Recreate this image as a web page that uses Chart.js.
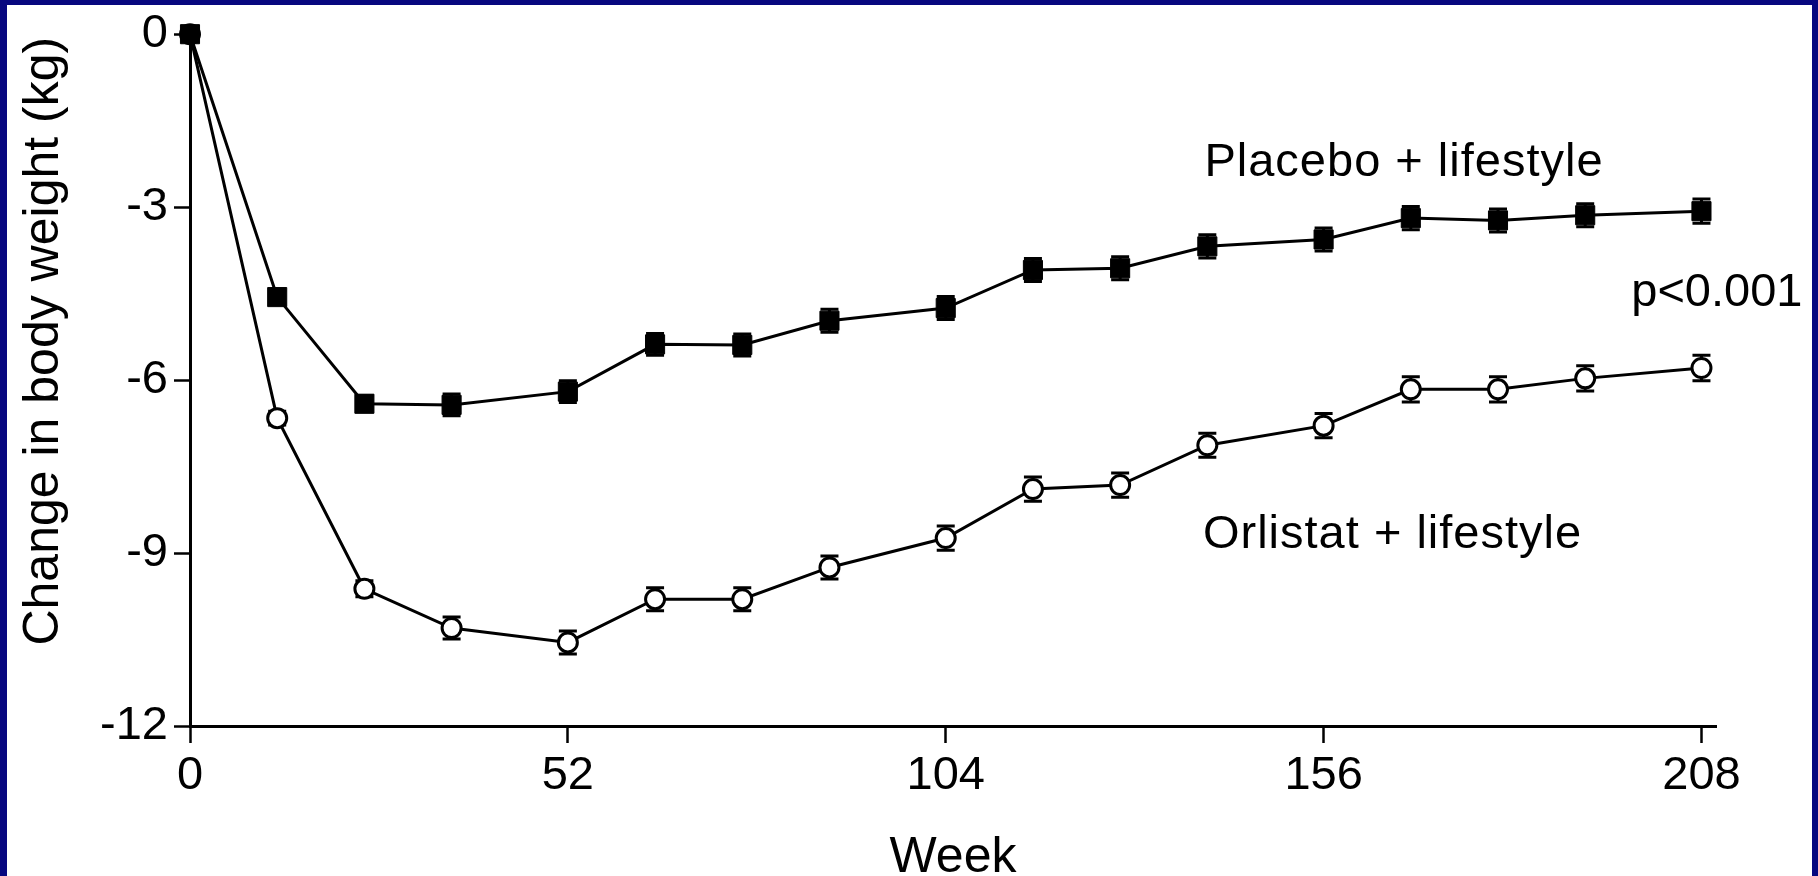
<!DOCTYPE html>
<html>
<head>
<meta charset="utf-8">
<script src="https://cdn.jsdelivr.net/npm/chart.js@4/dist/chart.umd.min.js"></script>
<style>
  html, body { margin: 0; padding: 0; width: 1818px; height: 876px; overflow: hidden; background: #07077f; }
  #panel { position: absolute; left: 7px; top: 5px; width: 1805px; height: 871px; background: #ffffff; }
  #chart { position: absolute; left: 0; top: 0; }
</style>
</head>
<body>
<div id="panel"></div>
<canvas id="chart" width="1818" height="876"></canvas>
<script>
// Study visits (weeks) and mean change in body weight (kg) with SEM
const weeks = [0, 12, 24, 36, 52, 64, 76, 88, 104, 116, 128, 140, 156, 168, 180, 192, 208];
const placebo = [0, -4.56, -6.41, -6.43, -6.20, -5.38, -5.39, -4.97, -4.75, -4.09, -4.06, -3.68, -3.56, -3.19, -3.23, -3.14, -3.07];
const placeboSem = [0, 0.12, 0.14, 0.19, 0.19, 0.19, 0.19, 0.2, 0.2, 0.2, 0.2, 0.2, 0.2, 0.2, 0.2, 0.2, 0.21];
const orlistat = [0, -6.66, -9.62, -10.30, -10.55, -9.80, -9.80, -9.25, -8.74, -7.89, -7.82, -7.13, -6.79, -6.16, -6.16, -5.97, -5.79];
const orlistatSem = [0, 0.12, 0.14, 0.19, 0.2, 0.2, 0.2, 0.2, 0.21, 0.21, 0.21, 0.21, 0.21, 0.22, 0.22, 0.22, 0.22];

const weekTicks = [0, 52, 104, 156, 208];
const kgTicks = [-12, -9, -6, -3, 0];

const seriesNames = ['Placebo + lifestyle', 'Orlistat + lifestyle'];
const pValueText = 'p<0.001';
const xAxisTitle = 'Week';
const yAxisTitle = 'Change in body weight (kg)';

const FONT = '"Liberation Sans", Arial, Helvetica, sans-serif';
const INK = '#000000';

const toPoints = (vals) => weeks.map((w, i) => ({ x: w, y: vals[i] }));

// Vertical error bars with caps, drawn under the lines and markers
const errorBars = {
  id: 'errorBars',
  beforeDatasetsDraw(chart) {
    const { ctx, scales: { x, y } } = chart;
    ctx.save();
    ctx.strokeStyle = INK;
    ctx.lineWidth = 3;
    chart.data.datasets.forEach((ds) => {
      ds.data.forEach((pt, i) => {
        const s = ds.sem[i];
        if (!s) return;
        const px = x.getPixelForValue(pt.x);
        const hi = y.getPixelForValue(pt.y + s);
        const lo = y.getPixelForValue(pt.y - s);
        ctx.beginPath();
        ctx.moveTo(px, hi); ctx.lineTo(px, lo);
        ctx.moveTo(px - 9, hi); ctx.lineTo(px + 9, hi);
        ctx.moveTo(px - 9, lo); ctx.lineTo(px + 9, lo);
        ctx.stroke();
      });
    });
    ctx.restore();
  }
};

// Series labels, p-value and the rotated y-axis title
const textLabels = {
  id: 'textLabels',
  afterDraw(chart) {
    const { ctx, scales: { x, y }, chartArea } = chart;
    ctx.save();
    ctx.fillStyle = INK;
    ctx.textBaseline = 'alphabetic';
    ctx.font = '47px ' + FONT;

    ctx.textAlign = 'left';
    ctx.letterSpacing = '1px';
    ctx.fillText(seriesNames[0], x.getPixelForValue(139.6), y.getPixelForValue(-2.46));
    ctx.fillText(seriesNames[1], x.getPixelForValue(139.4), y.getPixelForValue(-8.92));
    ctx.letterSpacing = '0px';
    ctx.textAlign = 'right';
    ctx.fillText(pValueText, x.getPixelForValue(221.9), y.getPixelForValue(-4.71));

    ctx.font = '50px ' + FONT;
    ctx.textAlign = 'center';
    ctx.translate(58, chartArea.top + 307);
    ctx.rotate(-Math.PI / 2);
    ctx.fillText(yAxisTitle, 0, 0);
    ctx.restore();
  }
};

new Chart(document.getElementById('chart'), {
  type: 'line',
  data: {
    datasets: [
      {
        label: seriesNames[0],
        data: toPoints(placebo),
        sem: placeboSem,
        borderColor: INK,
        borderWidth: 3,
        pointStyle: 'rect',
        pointRadius: 13.5,
        pointBackgroundColor: INK,
        pointBorderColor: INK,
        pointBorderWidth: 1,
        tension: 0,
        clip: false
      },
      {
        label: seriesNames[1],
        data: toPoints(orlistat),
        sem: orlistatSem,
        borderColor: INK,
        borderWidth: 3,
        pointStyle: 'circle',
        pointRadius: 9.5,
        pointBackgroundColor: '#ffffff',
        pointBorderColor: INK,
        pointBorderWidth: 3,
        tension: 0,
        clip: false
      }
    ]
  },
  options: {
    responsive: false,
    devicePixelRatio: 1,
    animation: false,
    events: [],
    layout: { padding: { top: 33, right: 102, bottom: 0, left: 0 } },
    plugins: {
      legend: { display: false },
      tooltip: { enabled: false }
    },
    scales: {
      x: {
        type: 'linear',
        min: 0,
        max: 210,
        afterBuildTicks: (s) => { s.ticks = weekTicks.map((v) => ({ value: v })); },
        afterFit: (s) => { s.height = 150; },
        ticks: {
          color: INK,
          font: { family: FONT, size: 47 },
          padding: 5,
          maxRotation: 0,
          autoSkip: false
        },
        grid: {
          drawOnChartArea: false,
          drawTicks: true,
          tickLength: 17,
          tickWidth: 2.5,
          tickColor: INK
        },
        border: { display: true, color: INK, width: 3 },
        title: {
          display: true,
          text: xAxisTitle,
          color: INK,
          font: { family: FONT, size: 50, lineHeight: 0.72 },
          padding: { top: 0, bottom: 0 }
        }
      },
      y: {
        type: 'linear',
        min: -12,
        max: 0,
        afterBuildTicks: (s) => { s.ticks = kgTicks.map((v) => ({ value: v })); },
        afterFit: (s) => { s.width = 190; },
        ticks: {
          color: INK,
          font: { family: FONT, size: 47 },
          padding: 6
        },
        grid: {
          drawOnChartArea: false,
          drawTicks: true,
          tickLength: 16,
          tickWidth: 2.5,
          tickColor: INK
        },
        border: { display: true, color: INK, width: 3 }
      }
    }
  },
  plugins: [errorBars, textLabels]
});
</script>
</body>
</html>
